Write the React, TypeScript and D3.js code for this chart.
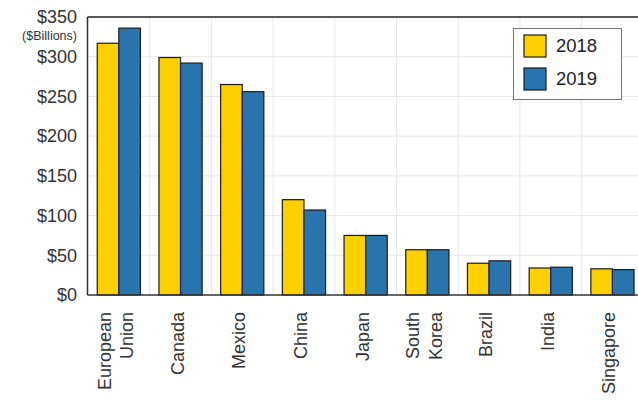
import React from "react";
import * as d3 from "d3";

const categories = ["European\nUnion", "Canada", "Mexico", "China", "Japan", "South\nKorea", "Brazil", "India", "Singapore"];
const series2018 = [317, 299, 265, 120, 75, 57, 40, 34, 33];
const series2019 = [336, 292, 256, 107, 75, 57, 43, 35, 32];
const seriesNames = ["2018", "2019"];
const yTicks = [0, 50, 100, 150, 200, 250, 300, 350];

const W = 638;
const H = 403;
const left = 88;
const top = 17;
const bottom = 295;
const step = 61.7;
const right = left + step * categories.length;
const colors = ["#FFD000", "#2A74AD"];
const font = "'Liberation Sans', Arial, Helvetica, sans-serif";

export default function App() {
  const x = d3.scaleBand<string>().domain(categories).range([left, right]).paddingInner(0).paddingOuter(0);
  const y = d3.scaleLinear().domain([0, 350]).range([bottom, top]);
  const inner = d3.scaleBand<string>().domain(seriesNames).range([0.15 * step, 0.85 * step]).padding(0);
  const data = [series2018, series2019];

  return (
    <svg width={W} height={H} style={{ position: "absolute", left: 0, top: 0, display: "block" }} fontFamily={font}>
      <rect x={0} y={0} width={W} height={H} fill="#fff" />
      {/* grid */}
      {yTicks.filter((t) => t > 0 && t < 350).map((t) => (
        <line key={"gy" + t} x1={left} x2={right} y1={y(t)} y2={y(t)} stroke="#e8e8e8" strokeWidth={1} />
      ))}
      {categories.slice(1).map((c) => (
        <line key={"gx" + c} x1={x(c)} x2={x(c)} y1={top} y2={bottom} stroke="#e8e8e8" strokeWidth={1} />
      ))}
      {/* bars */}
      {categories.map((c, i) =>
        seriesNames.map((s, j) => (
          <rect
            key={c + s}
            x={(x(c) as number) + (inner(s) as number)}
            y={y(data[j][i])}
            width={inner.bandwidth()}
            height={bottom - y(data[j][i])}
            fill={colors[j]}
            stroke="#1b1b1b"
            strokeWidth={1.2}
          />
        ))
      )}
      {/* frame */}
      <line x1={left - 0.5} x2={right} y1={top} y2={top} stroke="#222" strokeWidth={1.5} />
      <line x1={left - 0.5} x2={left - 0.5} y1={top} y2={bottom} stroke="#333" strokeWidth={1.5} />
      <line x1={left - 0.5} x2={right} y1={bottom} y2={bottom} stroke="#333" strokeWidth={1.5} />
      {/* y ticks */}
      {yTicks.map((t) => (
        <text key={"yt" + t} x={77} y={y(t)} dy="0.35em" textAnchor="end" fontSize={18} fill="#333">
          {"$" + t}
        </text>
      ))}
      <text x={77} y={36} dy="0.35em" textAnchor="end" fontSize={12.5} fill="#333">($Billions)</text>
      {/* x labels */}
      {categories.map((c) => {
        const lines = c.split("\n");
        const cx = (x(c) as number) + step / 2;
        const n = lines.length;
        return (
          <text key={"xl" + c} transform={`translate(${cx},312) rotate(-90)`} textAnchor="end" fontSize={18} fill="#333">
            {lines.map((l, k) => (
              <tspan key={k} x={0} y={3 + (k - (n - 1) / 2) * 22.5}>{l}</tspan>
            ))}
          </text>
        );
      })}
      {/* legend */}
      <rect x={513.5} y={28.5} width={108} height={71} fill="#fff" stroke="#777" strokeWidth={1} />
      {seriesNames.map((s, j) => (
        <g key={"lg" + s}>
          <rect x={524} y={35 + j * 33} width={22} height={22} fill={colors[j]} stroke="#1b1b1b" strokeWidth={1.2} />
          <text x={556} y={46 + j * 33} dy="0.35em" fontSize={18.5} fill="#222">{s}</text>
        </g>
      ))}
    </svg>
  );
}
